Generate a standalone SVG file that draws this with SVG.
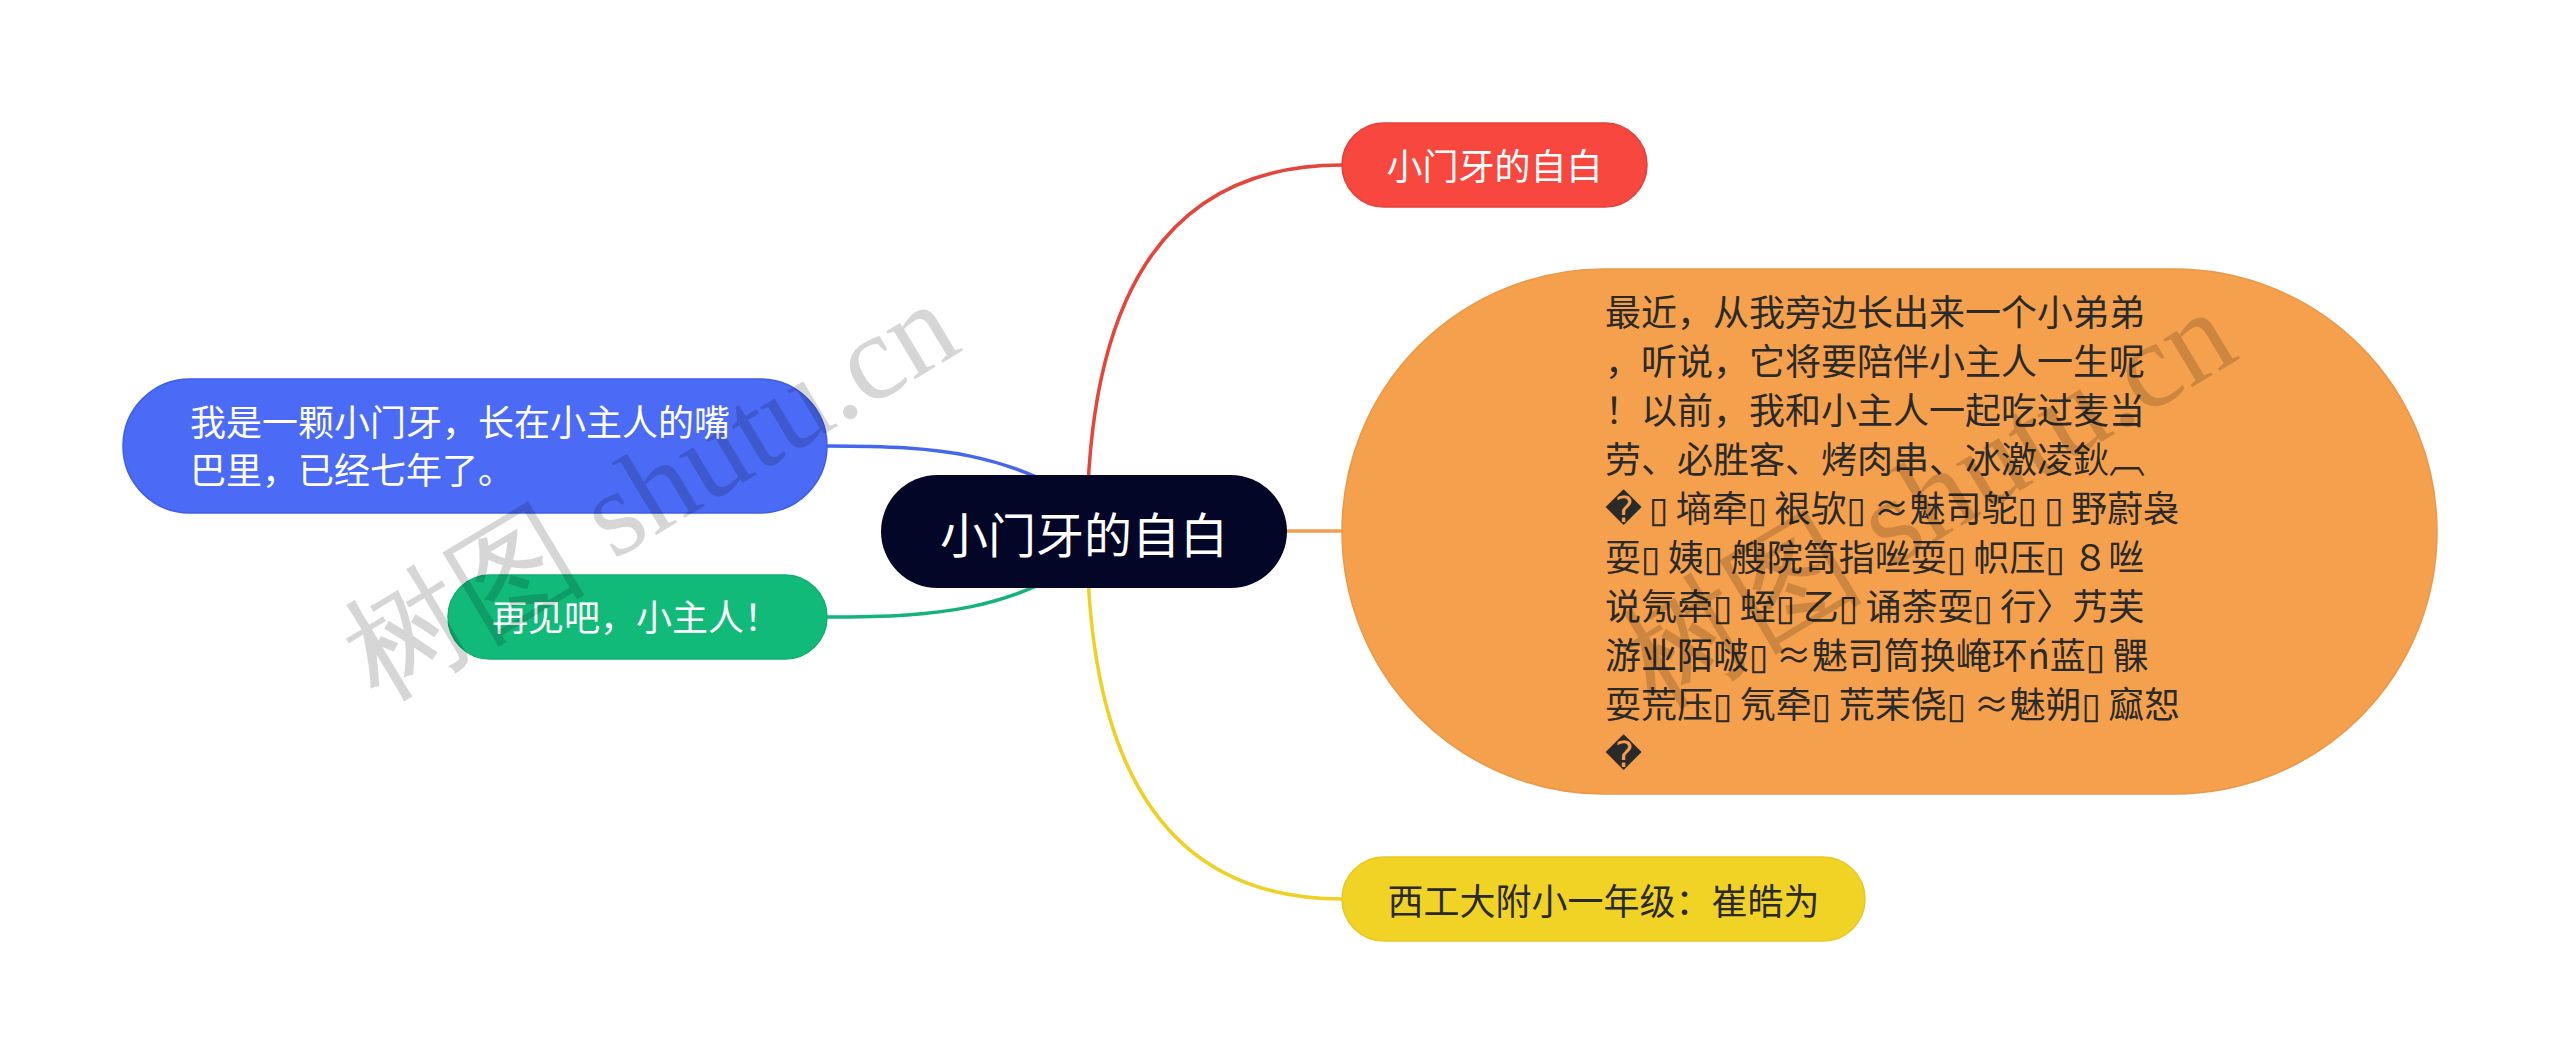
<svg xmlns="http://www.w3.org/2000/svg" width="2560" height="1064" viewBox="0 0 2560 1064">
<style>
.t{font-family:"Noto Sans CJK SC","DejaVu Sans",sans-serif;font-size:36px}
.w{fill:#ffffff}
.d{fill:#2a2a2a}
.c{text-anchor:middle}
.b{font-family:"DejaVu Sans",sans-serif;letter-spacing:7px}
.ln{fill:none;stroke-width:3.5;stroke-linecap:round}
.wm{font-family:"Liberation Serif","DejaVu Serif",serif;font-size:122px;fill:#000;fill-opacity:0.16}
</style>
<rect x="0" y="0" width="2560" height="1064" fill="#ffffff"/>
<g id="connectors">
<path class="ln" stroke="#E4463C" d="M1087,531 Q1087,165 1342,165"/>
<path class="ln" stroke="#EFD024" d="M1087,531 Q1087,899 1342,899"/>
<path class="ln" stroke="#F0A050" d="M1287,531 L1342,531"/>
<path class="ln" stroke="#4566EE" d="M827,446 C950,446 1000,455 1084,500"/>
<path class="ln" stroke="#13B37A" d="M827,617 C950,617 1000,608 1084,563"/>
</g>
<g id="node-center">
<rect x="881" y="475" width="406" height="113" rx="56.5" fill="#030627"/>
<text class="t w c" x="1084" y="553" style="font-size:48px">小门牙的自白</text>
</g>
<g id="node-title">
<rect x="1342" y="123" width="305" height="84" rx="42" fill="#F7473E" stroke="#E2403A" stroke-width="1.5"/>
<text class="t w c" x="1494.5" y="180">小门牙的自白</text>
</g>
<g id="node-story">
<rect x="1342" y="269" width="1095" height="525" rx="262.5" fill="#F5A04C" stroke="#EA984A" stroke-width="1.5"/>
<text class="t d" x="1605">
<tspan x="1605" y="326">最近，从我旁边长出来一个小弟弟</tspan>
<tspan x="1605" y="375">，听说，它将要陪伴小主人一生呢</tspan>
<tspan x="1605" y="424">！以前，我和小主人一起吃过麦当</tspan>
<tspan x="1605" y="473">劳、必胜客、烤肉串、冰激凌鈥︹</tspan>
<tspan x="1605" y="522"><tspan class="b">�▯</tspan>墒牵<tspan class="b">▯</tspan>裉欤<tspan class="b">▯</tspan>≈魅司鸵<tspan class="b">▯▯</tspan>野蔚袅</tspan>
<tspan x="1605" y="571">耍<tspan class="b">▯</tspan>姨<tspan class="b">▯</tspan>艘院笥指咝耍<tspan class="b">▯</tspan>帜压<tspan class="b">▯</tspan>８咝</tspan>
<tspan x="1605" y="620">说氖牵<tspan class="b">▯</tspan>蛭<tspan class="b">▯</tspan>乙<tspan class="b">▯</tspan>诵荼耍<tspan class="b">▯</tspan>行〉艿芙</tspan>
<tspan x="1605" y="669">游业陌啵<tspan class="b">▯</tspan>≈魅司筒换崦环ń蓝<tspan class="b">▯</tspan>髁</tspan>
<tspan x="1605" y="718">耍荒压<tspan class="b">▯</tspan>氖牵<tspan class="b">▯</tspan>荒茉侥<tspan class="b">▯</tspan>≈魅朔<tspan class="b">▯</tspan>窳恕</tspan>
<tspan x="1605" y="767" class="b">�</tspan>
</text>
</g>
<g id="node-author">
<rect x="1342" y="857" width="523" height="84" rx="42" fill="#F1D326" stroke="#E6C820" stroke-width="1.5"/>
<text class="t d c" x="1603.5" y="915">西工大附小一年级：崔皓为</text>
</g>
<g id="node-intro">
<rect x="123" y="379" width="704" height="134" rx="67" fill="#4B6AF5" stroke="#3F5EE6" stroke-width="1.5"/>
<text class="t w">
<tspan x="190" y="436">我是一颗小门牙，长在小主人的嘴</tspan>
<tspan x="190" y="484">巴里，已经七年了。</tspan>
</text>
</g>
<g id="node-bye">
<rect x="448" y="575" width="379" height="84" rx="42" fill="#12BA7A" stroke="#0FAE70" stroke-width="1.5"/>
<text class="t w" x="492" y="631">再见吧，小主人！</text>
</g>
<g id="watermarks">
<text class="wm" transform="translate(378,702) rotate(-31)">树图 shutu.cn</text>
<text class="wm" transform="translate(1655,710) rotate(-31)">树图 shutu.cn</text>
</g>
</svg>
